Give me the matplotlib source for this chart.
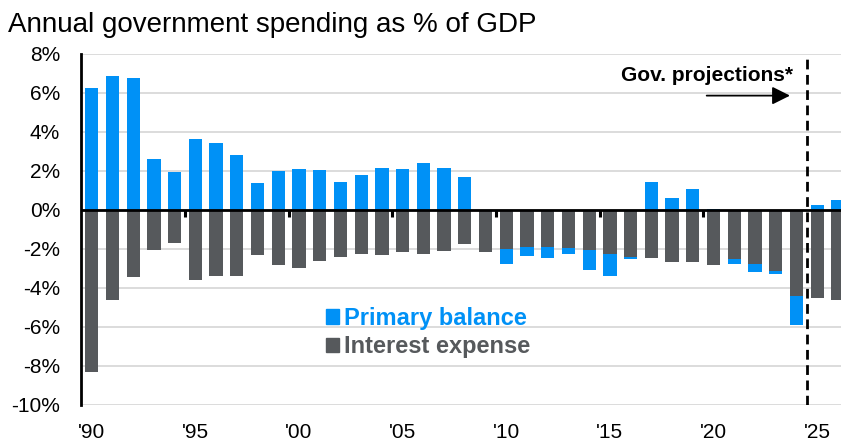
import numpy as np
import matplotlib.pyplot as plt
from matplotlib.patches import Patch

plt.rcParams['font.family'] = ['Liberation Sans', 'DejaVu Sans']

# Annual figures, % of GDP
years = list(range(1990, 2027))
primary_balance = [6.24, 6.85, 6.75, 2.60, 1.93, 3.62, 3.43, 2.80, 1.37, 2.00,
                   2.10, 2.03, 1.44, 1.79, 2.15, 2.08, 2.39, 2.15, 1.69, -0.04,
                   -0.77, -0.48, -0.58, -0.32, -1.04, -1.12, -0.07, 1.40, 0.60, 1.09,
                   0.05, -0.27, -0.43, -0.12, -1.47, 0.22, 0.51]
interest_expense = [-8.32, -4.62, -3.42, -2.05, -1.69, -3.59, -3.40, -3.37, -2.34, -2.85,
                    -2.98, -2.60, -2.43, -2.26, -2.32, -2.15, -2.26, -2.10, -1.76, -2.14,
                    -2.02, -1.90, -1.90, -1.95, -2.05, -2.26, -2.43, -2.48, -2.68, -2.67,
                    -2.85, -2.53, -2.77, -3.16, -4.43, -4.50, -4.60]
tick_years = [1990, 1995, 2000, 2005, 2010, 2015, 2020, 2025]
projection_start = 2025

blue = '#0091F6'
grey = '#56595C'

x = np.arange(len(years))
pb = np.array(primary_balance)
ie = np.array(interest_expense)

fig = plt.figure(figsize=(8.41, 4.47), dpi=100)
ax = fig.add_axes([0.0963, 0.094, 1 - 0.0963, 0.786])

width = 0.64
ax.bar(x, ie, width=width, color=grey, zorder=3)
# deficits sit below the interest bar, surpluses above zero
ax.bar(x, pb, width=width, bottom=np.where(pb < 0, ie, 0), color=blue, zorder=3)

ax.set_ylim(-10, 8)
ax.set_xlim(-0.516, 36.15)
ax.set_yticks(np.arange(-10, 9, 2))
ax.set_yticklabels([f'{v}%' for v in range(-10, 9, 2)])
ax.yaxis.grid(True, color='#D9D9D9', linewidth=1.3, zorder=0)
ax.set_axisbelow(True)

ax.set_xticks([years.index(y) for y in tick_years])
ax.set_xticklabels([f"'{str(y)[2:]}" for y in tick_years])
ax.tick_params(axis='both', length=0, labelsize=15, colors='black')
ax.tick_params(axis='y', pad=15)
ax.tick_params(axis='x', pad=13)

for side in ['top', 'right', 'bottom']:
    ax.spines[side].set_visible(False)
ax.spines['left'].set_linewidth(2)
ax.spines['left'].set_zorder(5)

ax.axhline(0, color='black', linewidth=2, zorder=4)
# small markers on the zero line between every five years
for t in np.arange(4.5, 31, 5):
    ax.plot([t, t], [0, -0.35], color='black', linewidth=2.2, zorder=4,
            solid_capstyle='butt')

# start of projections
px = years.index(projection_start) - 0.5
ax.axvline(px, color='black', linewidth=2, linestyle=(0, (3.5, 2)), zorder=5)
ax.text(px - 0.67, 6.62, 'Gov. projections*', ha='right', va='baseline',
        fontsize=15, fontweight='bold')
ax.annotate('', xy=(px - 0.81, 5.85), xytext=(px - 4.83, 5.85),
            arrowprops=dict(arrowstyle='-|>', color='black', lw=1.3,
                            mutation_scale=27, shrinkA=0, shrinkB=0))

handles = [Patch(color=blue), Patch(color=grey)]
ax.legend(handles, ['Primary balance', 'Interest expense'],
          loc='upper left', bbox_to_anchor=(0.31, 0.306), frameon=False,
          prop={'weight': 'bold', 'size': 17}, labelcolor=[blue, grey],
          handlelength=0.56, handleheight=0.56, handletextpad=0.2,
          labelspacing=0.22, borderaxespad=0)

fig.text(0.0095, 0.928, 'Annual government spending as % of GDP',
         fontsize=20, va='baseline', ha='left')

fig.savefig('out.png', dpi=100)
